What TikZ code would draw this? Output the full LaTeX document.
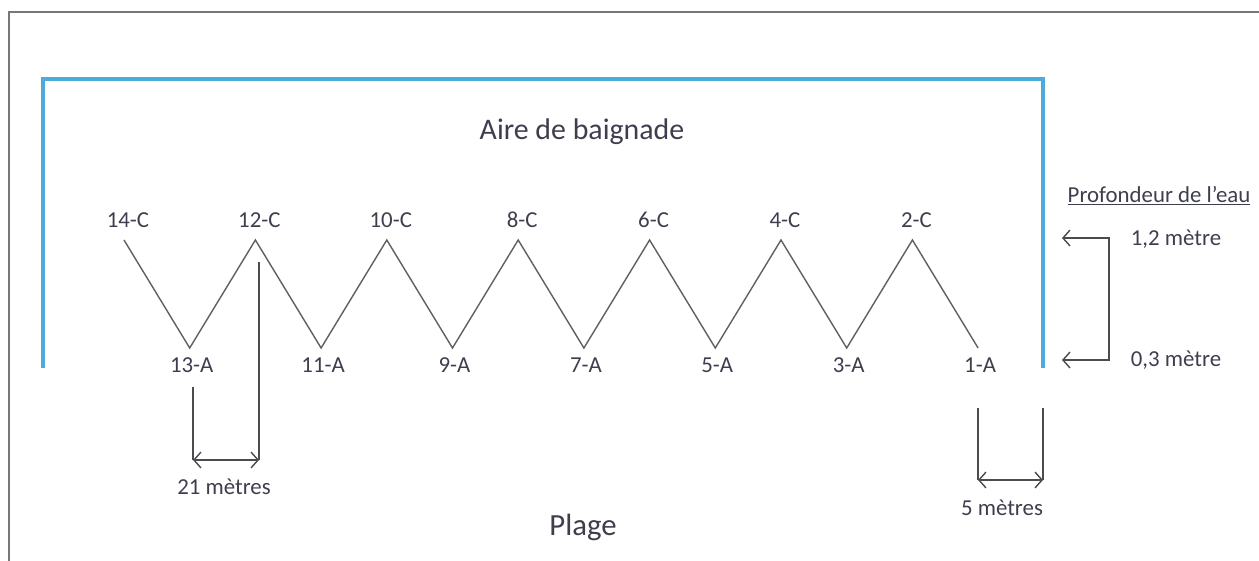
\documentclass[tikz,border=0pt]{standalone}
\usepackage{fontspec}
\setmainfont{Carlito}
\usetikzlibrary{arrows.meta}
\definecolor{bleuBaignade}{RGB}{75,172,218}
\definecolor{grisTrait}{RGB}{95,95,100}
\definecolor{grisTexte}{RGB}{62,62,78}
\tikzset{
  pl/cadre/.style={draw=grisTrait!85, line width=1.1pt},
  pl/zone/.style={draw=bleuBaignade, line width=2pt},
  pl/zig/.style={draw=grisTrait, line width=0.8pt},
  pl/cote/.style={draw=grisTrait!80!black, line width=0.8pt},
  pl/fl/.style={pl/cote, {Straight Barb[length=4pt,width=9pt]}-{Straight Barb[length=4pt,width=9pt]}},
  pl/lbl/.style={font=\fontsize{13}{15}\selectfont, text=grisTexte, inner sep=1pt},
  pl/titre/.style={font=\fontsize{17}{20}\selectfont, text=grisTexte, inner sep=1pt}
}

\begin{document}
\begin{tikzpicture}[x=0.02cm, y=-0.02cm]
  \useasboundingbox (0,0) rectangle (1259,561);

  % cadre et zone de baignade
  \draw[pl/cadre] (9,561) -- (9,12) -- (1259,12);
  \draw[pl/zone] (43,368) -- (43,79) -- (1043,79) -- (1043,368);
  \node[pl/titre] (aire) at (582,132) {Aire de baignade};
  \node[pl/titre, font=\fontsize{17.5}{20}\selectfont] (plage) at (583,527) {Plage};

  % points du parcours
  \foreach \k in {1,...,14}{
    \pgfmathsetmacro{\px}{124+65.7*(14-\k)}
    \ifodd\k
      \coordinate (p\k) at (\px,348);
      \node[pl/lbl] (t\k) at (\px+2,365) {\k-A};
    \else
      \coordinate (p\k) at (\px,240);
      \node[pl/lbl] (t\k) at (\px+4,220) {\k-C};
    \fi
  }
  \draw[pl/zig] (p14) \foreach \k in {13,...,1}{ -- (p\k) };

  % cote 21 metres
  \coordinate (a21) at (193,387);
  \coordinate (b21) at (193,460);
  \coordinate (c21) at (259,262);
  \coordinate (d21) at (259,460);
  \draw[pl/cote] (a21) -- (b21);
  \draw[pl/cote] (c21) -- (d21);
  \draw[pl/fl] (b21) -- (d21);
  \node[pl/lbl] (l21) at (224,487) {21 mètres};

  % cote 5 metres
  \coordinate (a5) at (978,408);
  \coordinate (b5) at (978,480);
  \coordinate (c5) at (1043,408);
  \coordinate (d5) at (1043,480);
  \draw[pl/cote] (a5) -- (b5);
  \draw[pl/cote] (c5) -- (d5);
  \draw[pl/fl] (b5) -- (d5);
  \node[pl/lbl] (l5) at (1002,508) {5 mètres};

  % profondeur
  \node[pl/lbl] (prof) at (1159,196) {\underline{Profondeur de l’eau}};
  \coordinate (f1) at (1062,238);
  \coordinate (h1) at (1109,238);
  \coordinate (h2) at (1109,360);
  \coordinate (f2) at (1062,360);
  \draw[pl/fl] (f1) -- (h1) -- (h2) -- (f2);
  \node[pl/lbl] (haut) at (1176,239) {1,2 mètre};
  \node[pl/lbl] (bas) at (1176,360) {0,3 mètre};
\end{tikzpicture}
\end{document}
